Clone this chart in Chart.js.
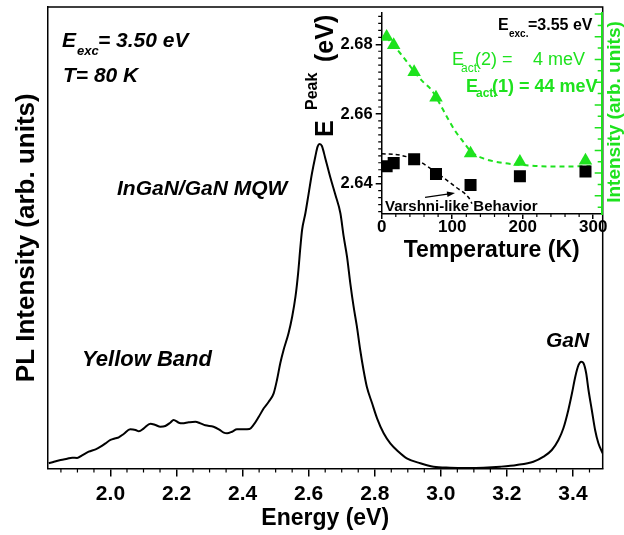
<!DOCTYPE html>
<html><head><meta charset="utf-8">
<script src="https://cdn.jsdelivr.net/npm/chart.js@4.4.1/dist/chart.umd.min.js"></script>
<style>
html,body{margin:0;padding:0;background:#fff;}
#wrap{position:relative;width:624px;height:535px;overflow:hidden;background:#fff;}
#wrap canvas{position:absolute;}
#main{left:0;top:0;}
#inset{left:300px;top:0;}
</style></head><body>
<div id="wrap"><canvas id="main" width="624" height="535"></canvas><canvas id="inset" width="324" height="270"></canvas></div>
<script>
// ---- main spectrum ----
const energyEV = [1.813,1.829,1.849,1.869,1.884,1.899,1.914,1.934,1.955,1.970,1.985,2.000,2.015,2.025,2.040,2.060,2.076,2.086,2.101,2.121,2.136,2.151,2.166,2.181,2.191,2.207,2.217,2.237,2.257,2.272,2.287,2.312,2.328,2.343,2.353,2.368,2.383,2.403,2.421,2.433,2.449,2.464,2.479,2.494,2.504,2.514,2.524,2.539,2.550,2.560,2.568,2.575,2.580,2.590,2.600,2.610,2.620,2.627,2.633,2.640,2.650,2.665,2.681,2.696,2.706,2.716,2.726,2.736,2.746,2.756,2.766,2.776,2.792,2.807,2.827,2.847,2.872,2.897,2.938,2.978,3.028,3.079,3.129,3.180,3.230,3.280,3.311,3.336,3.356,3.371,3.386,3.397,3.407,3.417,3.425,3.432,3.440,3.447,3.457,3.467,3.477,3.490];
const plIntensity = [1.13,1.47,1.84,2.12,2.34,2.28,2.86,3.64,4.16,4.72,5.46,6.18,6.54,6.76,7.48,8.49,8.34,8.06,8.71,9.71,9.43,9.06,9.21,9.92,10.51,9.92,9.79,10.01,10.14,9.79,9.36,9.06,8.49,7.76,7.63,7.97,8.49,8.49,8.56,9.43,11.22,13.04,14.47,16.29,19.18,22.80,25.68,29.30,32.89,37.23,42.30,48.06,51.68,55.30,59.63,63.97,67.56,69.73,70.31,69.88,67.30,63.23,59.26,55.30,50.23,45.89,40.13,35.06,30.73,25.68,21.34,17.72,14.13,10.88,7.63,5.46,3.64,2.21,1.13,0.39,0.17,0.11,0.17,0.39,0.76,1.47,2.56,4.01,6.18,8.71,12.68,16.29,19.89,22.43,23.14,22.80,20.63,17.01,12.68,8.34,5.46,3.29];
const mainXTicks = [2.0,2.2,2.4,2.6,2.8,3.0,3.2,3.4];

// ---- inset ----
const tempK = [7,17,46,77,126,196,289];
const peakEnergy = [2.6450,2.6459,2.6470,2.6428,2.6396,2.6421,2.6435];
const peakIntensity = [14.99,14.26,11.89,9.64,4.73,3.99,4.10];
const fitTemp = [7,14,26,35,47,59,71,82,92,104,116,127,144,168,196,234,272,296];
const fitIntensity = [14.99,14.43,13.57,12.86,11.86,11.01,10.29,9.15,8.01,6.73,5.73,4.87,4.30,3.93,3.74,3.59,3.59,3.62];
const varshniTemp = [0,26,54,78,106,123,128];
const varshniEnergy = [2.6486,2.6482,2.6463,2.6431,2.6389,2.6361,2.6343];
const insetXTicks = [0,100,200,300];
const insetYTicks = [2.64,2.66,2.68];

const FONT = "'Liberation Sans', Arial, Helvetica, sans-serif";
const GREEN = '#1ee21e';
Chart.defaults.font.family = FONT;
Chart.defaults.color = '#000';

function txt(ctx, s, x, y, font, color) {
  ctx.font = font + ' ' + FONT;
  ctx.fillStyle = color || '#000';
  ctx.textAlign = 'left';
  ctx.textBaseline = 'alphabetic';
  ctx.fillText(s, x, y);
  return x + ctx.measureText(s).width;
}

const mainDeco = {
  id: 'mainDeco',
  afterDraw(chart) {
    const {ctx, chartArea: a, scales: {x}} = chart;
    ctx.save();
    ctx.strokeStyle = '#000';
    ctx.lineWidth = 1.5;
    ctx.beginPath();
    ctx.moveTo(a.left, a.top); ctx.lineTo(a.right, a.top); ctx.lineTo(a.right, a.bottom);
    ctx.stroke();
    ctx.lineWidth = 1.2;
    ctx.beginPath();
    for (let k = 37; k <= 69; k++) {
      if (k % 4 === 0) continue;
      const px = x.getPixelForValue(k * 0.05);
      ctx.moveTo(px, a.bottom); ctx.lineTo(px, a.bottom + 4);
    }
    ctx.stroke();
    txt(ctx, 'E', 62, 46.7, 'italic bold 21px');
    txt(ctx, 'exc', 77, 55, 'italic bold 13px');
    txt(ctx, '= 3.50 eV', 98, 46.7, 'italic bold 21px');
    txt(ctx, 'T= 80 K', 63, 81.7, 'italic bold 21px');
    txt(ctx, 'InGaN/GaN MQW', 117, 195, 'italic bold 21px');
    txt(ctx, 'Yellow Band', 82, 366, 'italic bold 22px');
    txt(ctx, 'GaN', 546, 346.7, 'italic bold 21px');
    ctx.restore();
  }
};

new Chart(document.getElementById('main'), {
  type: 'line',
  data: { datasets: [{
    data: energyEV.map((e, i) => ({x: e, y: plIntensity[i]})),
    borderColor: '#000', borderWidth: 2, pointRadius: 0, fill: false,
    cubicInterpolationMode: 'monotone'
  }]},
  options: {
    responsive: false, animation: false,
    layout: { padding: {top: 7, right: 21.3, left: 0, bottom: 0} },
    plugins: { legend: {display: false}, tooltip: {enabled: false} },
    scales: {
      x: {
        type: 'linear', min: 1.81, max: 3.49,
        afterBuildTicks: s => { s.ticks = mainXTicks.map(v => ({value: v})); },
        afterFit: s => { s.height = 66.5; },
        grid: {display: true, drawOnChartArea: false, drawTicks: true, tickLength: 8, color: '#000', lineWidth: 1.5},
        border: {display: true, color: '#000', width: 1.5},
        ticks: {font: {size: 21, weight: 'bold'}, padding: 5, maxRotation: 0, autoSkip: false, callback: v => Number(v).toFixed(1)},
        title: {display: true, text: 'Energy (eV)', font: {size: 23, weight: 'bold'}, padding: {top: 0, bottom: 2.5}}
      },
      y: {
        type: 'linear', min: 0, max: 100,
        afterFit: s => { s.width = 47.7; },
        ticks: {display: false}, grid: {display: false},
        border: {display: true, color: '#000', width: 1.5},
        title: {display: true, text: 'PL Intensity (arb. units)', font: {size: 26, weight: 'bold'}, padding: {top: 11.4, bottom: 0}}
      }
    }
  },
  plugins: [mainDeco]
});

const insetDeco = {
  id: 'insetDeco',
  afterDraw(chart) {
    const {ctx, chartArea: a, scales: {x, y, y2}} = chart;
    ctx.save();
    ctx.strokeStyle = '#000';
    ctx.lineWidth = 1.2;
    ctx.beginPath();
    for (let k = 1316; k <= 1344; k++) {
      if (k % 10 === 0) continue;
      const py = y.getPixelForValue(k * 0.002);
      if (py < a.top || py > a.bottom) continue;
      ctx.moveTo(a.left, py); ctx.lineTo(a.left - 3.5, py);
    }
    for (let t = 20; t <= 300; t += 20) {
      if (t % 100 === 0) continue;
      const px = x.getPixelForValue(t);
      ctx.moveTo(px, a.bottom); ctx.lineTo(px, a.bottom + 3);
    }
    ctx.stroke();
    // green intensity axis ticks (inward)
    ctx.strokeStyle = GREEN;
    ctx.lineWidth = 1.5;
    ctx.beginPath();
    for (let k = 0; k <= 17; k++) {
      const py = y2.getPixelForValue(k);
      ctx.moveTo(a.right, py); ctx.lineTo(a.right - (k % 2 ? 7 : 4), py);
    }
    ctx.stroke();
    // arrow
    const x0 = x.getPixelForValue(61.5), y0 = y.getPixelForValue(2.6361);
    const x1 = x.getPixelForValue(104), y1 = y.getPixelForValue(2.6373);
    const ang = Math.atan2(y1 - y0, x1 - x0);
    ctx.strokeStyle = '#000'; ctx.fillStyle = '#000'; ctx.lineWidth = 1.3;
    ctx.beginPath(); ctx.moveTo(x0, y0); ctx.lineTo(x1 - 6 * Math.cos(ang), y1 - 6 * Math.sin(ang)); ctx.stroke();
    ctx.beginPath();
    ctx.moveTo(x1, y1);
    ctx.lineTo(x1 - 8 * Math.cos(ang) + 2.8 * Math.sin(ang), y1 - 8 * Math.sin(ang) - 2.8 * Math.cos(ang));
    ctx.lineTo(x1 - 8 * Math.cos(ang) - 2.8 * Math.sin(ang), y1 - 8 * Math.sin(ang) + 2.8 * Math.cos(ang));
    ctx.closePath(); ctx.fill();
    txt(ctx, 'Varshni-like Behavior', 85, 210.5, 'bold 15px');
    // labels
    txt(ctx, 'E', 198, 30, 'bold 16px');
    txt(ctx, 'exc.', 209, 37, 'bold 10px');
    txt(ctx, '=3.55 eV', 228, 30, 'bold 16px');
    txt(ctx, 'E', 152, 65, '18px', GREEN);
    txt(ctx, 'act.', 161, 72, '12px', GREEN);
    txt(ctx, '(2) =', 175, 65, '18px', GREEN);
    txt(ctx, '4 meV', 233, 65, '18px', GREEN);
    txt(ctx, 'E', 166, 91.7, 'bold 18px', GREEN);
    txt(ctx, 'act.', 176, 97, 'bold 12px', GREEN);
    txt(ctx, '(1) = 44 meV', 192, 91.7, 'bold 18px', GREEN);
    // left title E^Peak (eV)
    ctx.save();
    ctx.translate(33, 137);
    ctx.rotate(-Math.PI / 2);
    txt(ctx, 'E', 0, 0, 'bold 25px');
    txt(ctx, 'Peak', 27, -16, 'bold 16px');
    txt(ctx, '(eV)', 75, 0, 'bold 25px');
    ctx.restore();
    // right title
    ctx.save();
    ctx.translate(315, 112);
    ctx.rotate(-Math.PI / 2);
    ctx.font = 'bold 19px ' + FONT;
    ctx.fillStyle = GREEN; ctx.textAlign = 'center'; ctx.textBaseline = 'middle';
    ctx.fillText('Intensity (arb. units)', 0, 0);
    ctx.restore();
    ctx.restore();
  }
};

new Chart(document.getElementById('inset'), {
  type: 'line',
  data: { datasets: [
    { data: tempK.map((t, i) => ({x: t, y: peakEnergy[i]})), yAxisID: 'y', showLine: false,
      pointStyle: 'rect', pointRadius: 8.5, backgroundColor: '#000', borderColor: '#000', borderWidth: 0, order: 0 },
    { data: tempK.map((t, i) => ({x: t, y: peakIntensity[i]})), yAxisID: 'y2', showLine: false,
      pointStyle: 'triangle', pointRadius: 7.8, backgroundColor: GREEN, borderColor: GREEN, borderWidth: 0, order: 0 },
    { data: varshniTemp.map((t, i) => ({x: t, y: varshniEnergy[i]})), yAxisID: 'y',
      borderColor: '#000', borderWidth: 1.5, borderDash: [4, 3], pointRadius: 0, cubicInterpolationMode: 'monotone', order: 1 },
    { data: fitTemp.map((t, i) => ({x: t, y: fitIntensity[i]})), yAxisID: 'y2',
      borderColor: GREEN, borderWidth: 2, borderDash: [5, 4], pointRadius: 0, cubicInterpolationMode: 'monotone', order: 1 }
  ]},
  options: {
    responsive: false, animation: false,
    layout: { padding: {top: 7, right: 0, left: 0, bottom: 0} },
    plugins: { legend: {display: false}, tooltip: {enabled: false} },
    scales: {
      x: {
        type: 'linear', min: 0, max: 312,
        afterBuildTicks: s => { s.ticks = insetXTicks.map(v => ({value: v})); },
        afterFit: s => { s.height = 56; },
        grid: {display: true, drawOnChartArea: false, drawTicks: true, tickLength: 5, color: '#000', lineWidth: 1.5},
        border: {display: true, color: '#000', width: 1.5},
        ticks: {font: {size: 17, weight: 'bold', lineHeight: 1}, padding: 0, maxRotation: 0, autoSkip: false},
        title: {display: true, text: 'Temperature (K)', font: {size: 23, weight: 'bold'}, padding: {top: 0, bottom: 6}}
      },
      y: {
        type: 'linear', position: 'left', min: 2.6313, max: 2.689,
        afterBuildTicks: s => { s.ticks = insetYTicks.map(v => ({value: v})); },
        afterFit: s => { s.width = 81.7; },
        grid: {display: true, drawOnChartArea: false, drawTicks: true, tickLength: 6, color: '#000', lineWidth: 1.5},
        border: {display: true, color: '#000', width: 1.5},
        ticks: {font: {size: 16.5, weight: 'bold'}, padding: 3, callback: v => Number(v).toFixed(2)}
      },
      y2: {
        type: 'linear', position: 'right', min: -0.6, max: 17.1,
        afterFit: s => { s.width = 22.3; },
        ticks: {display: false}, grid: {display: false},
        border: {display: true, color: GREEN, width: 2}
      }
    }
  },
  plugins: [insetDeco]
});
</script>
</body></html>
